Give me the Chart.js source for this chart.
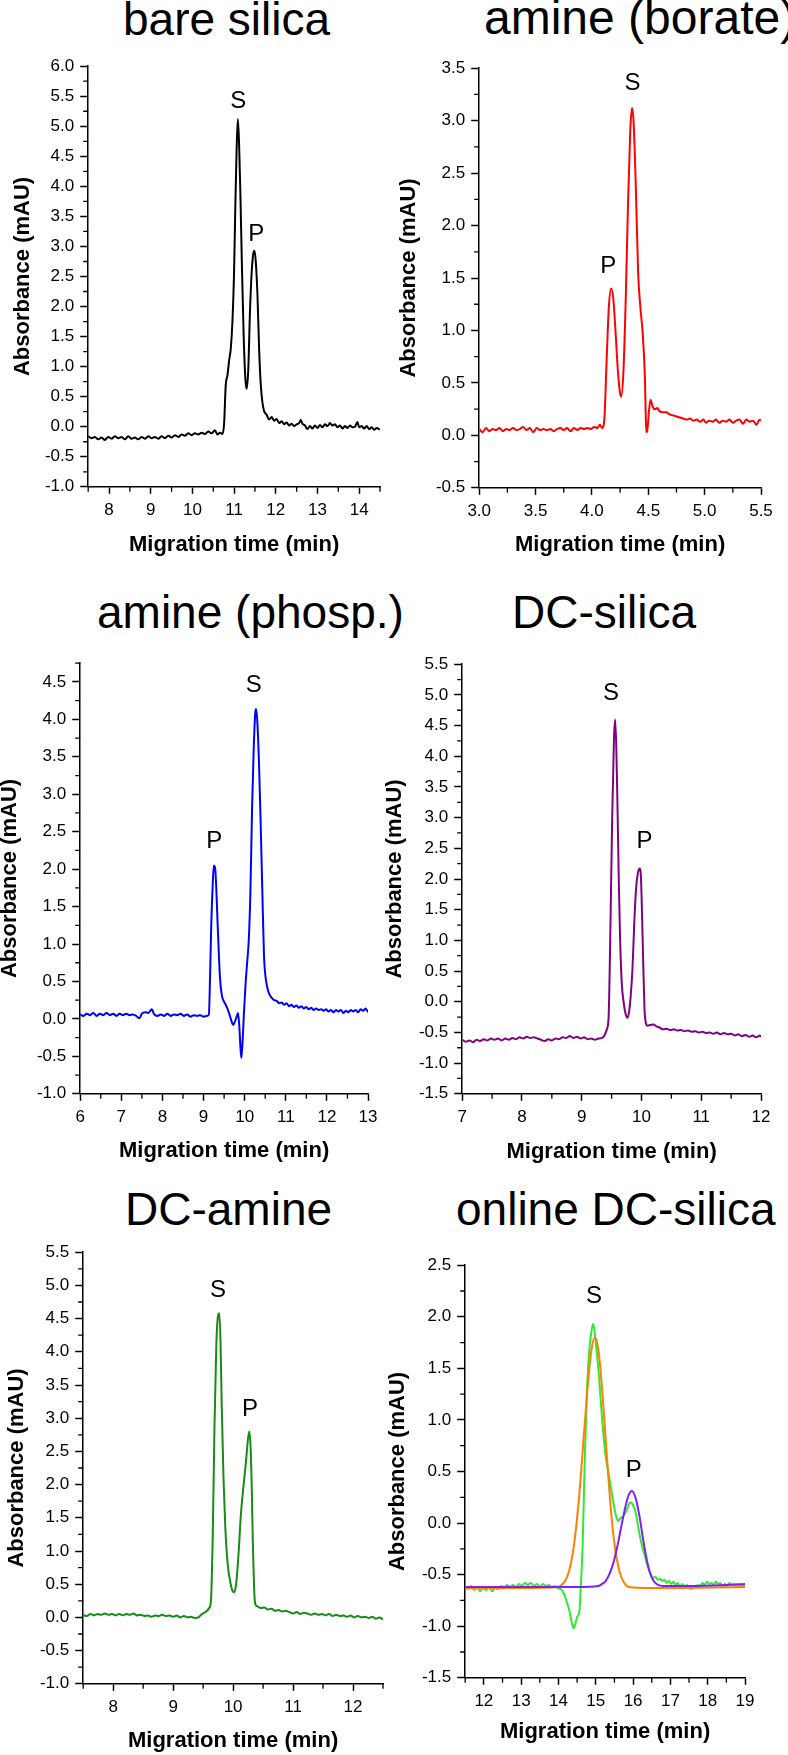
<!DOCTYPE html>
<html>
<head>
<meta charset="utf-8">
<script src="https://cdn.jsdelivr.net/npm/chart.js@4.4.1/dist/chart.umd.min.js"></script>
<style>
  body { margin: 0; background: #fff; }
  #pagina { position: relative; width: 788px; height: 1755px; overflow: hidden; background: #fff; }
  #pagina canvas { position: absolute; }
  .titulo { position: absolute; font: 46px/46px "Liberation Sans", Arial, sans-serif; color: #000; white-space: nowrap; }
</style>
</head>
<body>
<div id="pagina">
  <div class="titulo" style="left:123px; top:-4px">bare silica</div>
  <div class="titulo" style="left:484px; top:-5px; font-size:48px">amine (borate)</div>
  <div class="titulo" style="left:97px; top:589px">amine (phosp.)</div>
  <div class="titulo" style="left:512px; top:589px">DC-silica</div>
  <div class="titulo" style="left:125px; top:1186px">DC-amine</div>
  <div class="titulo" style="left:456px; top:1186px">online DC-silica</div>
</div>

<script>

// bare silica
const bareTime = [
  7.50,7.58,7.66,7.74,7.82,7.90,7.98,8.06,8.14,8.22,
  8.30,8.38,8.46,8.54,8.62,8.70,8.78,8.86,8.94,9.02,
  9.10,9.18,9.26,9.34,9.42,9.50,9.58,9.66,9.74,9.82,
  9.90,9.98,10.06,10.14,10.22,10.30,10.38,10.46,10.54,10.60,
  10.66,10.72,10.76,10.80,10.84,10.88,10.92,10.96,11.00,11.03,
  11.06,11.09,11.12,11.15,11.19,11.23,11.27,11.30,11.34,11.38,
  11.42,11.46,11.49,11.52,11.56,11.60,11.64,11.68,11.72,11.78,
  11.84,11.90,11.96,12.02,12.08,12.14,12.20,12.26,12.32,12.38,
  12.44,12.50,12.56,12.60,12.64,12.70,12.76,12.82,12.88,12.94,
  13.00,13.06,13.12,13.18,13.24,13.30,13.36,13.42,13.48,13.54,
  13.60,13.66,13.72,13.78,13.84,13.90,13.96,14.00,14.06,14.12,
  14.18,14.24,14.30,14.36,14.42,14.50
];
const bareAbs = [
  -0.16,-0.19,-0.17,-0.21,-0.18,-0.22,-0.17,-0.20,-0.16,-0.19,
  -0.17,-0.21,-0.16,-0.20,-0.18,-0.21,-0.17,-0.20,-0.16,-0.19,
  -0.17,-0.20,-0.16,-0.19,-0.15,-0.18,-0.14,-0.17,-0.13,-0.15,
  -0.11,-0.14,-0.11,-0.13,-0.10,-0.12,-0.08,-0.11,-0.06,-0.13,
  -0.10,-0.12,0.05,0.70,0.85,1.10,1.30,1.75,2.60,3.70,
  4.60,5.12,4.70,3.90,2.60,1.50,0.80,0.63,0.95,1.90,
  2.55,2.88,2.93,2.75,2.20,1.30,0.70,0.40,0.26,0.20,
  0.12,0.16,0.10,0.13,0.06,0.09,0.04,0.07,0.02,0.05,
  0.01,0.04,0.06,0.11,0.05,0.02,-0.04,0.01,-0.03,0.02,
  -0.02,0.03,-0.01,0.04,0.01,0.06,0.02,0.04,-0.01,0.02,
  -0.03,0.01,-0.02,0.02,-0.01,0.00,0.08,-0.01,0.01,-0.03,
  0.01,-0.04,-0.01,-0.05,-0.02,-0.05
];
const bareLabels = [['S', 11.10, 5.42], ['P', 11.53, 3.20]];

// amine (borate)
const borateTime = [
  3.00,3.03,3.06,3.09,3.12,3.15,3.18,3.21,3.24,3.27,
  3.30,3.33,3.36,3.39,3.42,3.45,3.48,3.51,3.54,3.57,
  3.60,3.63,3.66,3.69,3.72,3.75,3.78,3.81,3.84,3.87,
  3.90,3.93,3.96,3.99,4.02,4.05,4.07,4.09,4.11,4.13,
  4.15,4.17,4.19,4.21,4.23,4.25,4.26,4.28,4.30,4.32,
  4.34,4.355,4.37,4.39,4.41,4.43,4.45,4.47,4.48,4.49,
  4.505,4.52,4.54,4.56,4.58,4.60,4.63,4.66,4.69,4.72,
  4.75,4.78,4.81,4.84,4.87,4.90,4.93,4.96,4.99,5.01,
  5.04,5.07,5.10,5.13,5.16,5.19,5.22,5.25,5.28,5.31,
  5.34,5.37,5.40,5.43,5.46,5.48,5.50
];
const borateAbs = [
  0.06,0.03,0.07,0.04,0.06,0.05,0.07,0.04,0.06,0.05,
  0.07,0.05,0.06,0.08,0.05,0.07,0.03,0.07,0.05,0.06,
  0.05,0.06,0.04,0.06,0.07,0.05,0.07,0.04,0.07,0.05,
  0.07,0.06,0.07,0.06,0.08,0.07,0.10,0.07,0.15,0.70,
  1.22,1.40,1.30,0.98,0.62,0.40,0.37,0.62,1.30,2.20,
  2.90,3.12,2.98,2.35,1.55,1.22,0.98,0.55,0.10,0.03,
  0.22,0.34,0.27,0.25,0.26,0.23,0.22,0.22,0.20,0.19,
  0.18,0.17,0.16,0.15,0.16,0.14,0.15,0.13,0.15,0.12,
  0.14,0.13,0.15,0.12,0.14,0.13,0.15,0.12,0.14,0.15,
  0.11,0.15,0.13,0.14,0.10,0.14,0.15
];
const borateLabels = [['S', 4.36, 3.36], ['P', 4.145, 1.61]];

// amine (phosp.)
const phospTime = [
  6.00,6.08,6.16,6.24,6.32,6.40,6.48,6.56,6.64,6.72,
  6.80,6.88,6.96,7.04,7.12,7.20,7.28,7.36,7.44,7.50,
  7.58,7.66,7.74,7.80,7.88,7.96,8.04,8.12,8.20,8.28,
  8.36,8.44,8.52,8.60,8.68,8.76,8.84,8.92,9.00,9.08,
  9.13,9.16,9.19,9.22,9.25,9.28,9.31,9.34,9.37,9.40,
  9.44,9.48,9.53,9.58,9.63,9.68,9.72,9.76,9.80,9.84,
  9.87,9.90,9.92,9.95,9.98,10.02,10.06,10.10,10.14,10.18,
  10.22,10.26,10.28,10.31,10.35,10.39,10.43,10.47,10.51,10.55,
  10.60,10.66,10.72,10.78,10.84,10.90,10.96,11.02,11.08,11.14,
  11.20,11.26,11.32,11.38,11.44,11.50,11.56,11.62,11.68,11.74,
  11.80,11.86,11.92,11.98,12.04,12.10,12.16,12.22,12.28,12.34,
  12.40,12.46,12.52,12.58,12.64,12.70,12.76,12.82,12.88,12.94,
  12.97,13.00
];
const phospAbs = [
  0.06,0.04,0.07,0.05,0.08,0.04,0.07,0.05,0.08,0.05,
  0.07,0.04,0.07,0.05,0.07,0.05,0.06,0.04,0.01,0.07,
  0.09,0.08,0.13,0.06,0.04,0.06,0.04,0.07,0.04,0.06,
  0.05,0.07,0.04,0.06,0.03,0.05,0.04,0.05,0.03,0.04,
  0.06,0.60,1.30,1.75,2.05,2.02,1.75,1.30,0.90,0.55,
  0.33,0.25,0.20,0.14,0.06,-0.03,-0.08,-0.04,0.02,0.08,
  -0.10,-0.40,-0.52,-0.30,0.05,0.45,0.75,1.05,1.70,2.80,
  3.60,4.10,4.14,3.95,3.40,2.60,1.70,0.85,0.55,0.42,
  0.33,0.28,0.25,0.24,0.21,0.22,0.19,0.21,0.17,0.19,
  0.16,0.18,0.15,0.17,0.14,0.16,0.13,0.15,0.12,0.14,
  0.12,0.13,0.11,0.13,0.10,0.12,0.09,0.12,0.10,0.12,
  0.08,0.11,0.09,0.12,0.10,0.12,0.09,0.13,0.11,0.14,
  0.12,0.09
];
const phospLabels = [['S', 10.22, 4.45], ['P', 9.26, 2.37]];

// DC-silica
const dcSilicaTime = [
  7.00,7.06,7.12,7.18,7.24,7.30,7.36,7.42,7.48,7.54,
  7.60,7.66,7.72,7.78,7.84,7.90,7.96,8.02,8.08,8.14,
  8.20,8.26,8.32,8.38,8.44,8.50,8.56,8.62,8.68,8.74,
  8.80,8.86,8.92,8.98,9.04,9.10,9.16,9.22,9.28,9.34,
  9.38,9.42,9.45,9.48,9.51,9.54,9.56,9.58,9.60,9.62,
  9.64,9.67,9.70,9.73,9.76,9.79,9.82,9.85,9.88,9.91,
  9.94,9.97,9.99,10.01,10.03,10.05,10.07,10.10,10.15,10.20,
  10.25,10.30,10.36,10.42,10.48,10.54,10.60,10.66,10.72,10.78,
  10.84,10.90,10.96,11.02,11.08,11.14,11.20,11.26,11.32,11.38,
  11.44,11.50,11.56,11.62,11.68,11.74,11.80,11.86,11.92,11.98,
  12.00
];
const dcSilicaAbs = [
  -0.62,-0.65,-0.63,-0.66,-0.62,-0.64,-0.61,-0.63,-0.60,-0.62,
  -0.60,-0.63,-0.60,-0.62,-0.59,-0.61,-0.58,-0.60,-0.57,-0.59,
  -0.58,-0.60,-0.62,-0.64,-0.61,-0.63,-0.60,-0.61,-0.58,-0.59,
  -0.56,-0.59,-0.57,-0.60,-0.58,-0.61,-0.60,-0.62,-0.60,-0.59,
  -0.55,-0.45,-0.25,1.20,3.00,4.30,4.60,4.10,3.10,2.00,
  1.10,0.30,0.00,-0.18,-0.26,-0.18,0.10,0.55,1.30,1.85,
  2.10,2.17,2.05,1.40,0.60,-0.10,-0.33,-0.39,-0.38,-0.37,
  -0.40,-0.42,-0.45,-0.44,-0.46,-0.45,-0.47,-0.46,-0.48,-0.47,
  -0.49,-0.48,-0.50,-0.49,-0.51,-0.50,-0.52,-0.50,-0.53,-0.51,
  -0.53,-0.52,-0.55,-0.53,-0.56,-0.54,-0.57,-0.55,-0.58,-0.55,
  -0.57
];
const dcSilicaLabels = [['S', 9.49, 5.02], ['P', 10.05, 2.61]];

// DC-amine
const dcAmineTime = [
  7.50,7.56,7.62,7.68,7.74,7.80,7.86,7.92,7.98,8.04,
  8.10,8.16,8.22,8.28,8.34,8.40,8.46,8.52,8.58,8.64,
  8.70,8.76,8.82,8.88,8.94,9.00,9.06,9.12,9.18,9.24,
  9.30,9.36,9.42,9.48,9.54,9.60,9.63,9.66,9.69,9.72,
  9.75,9.77,9.79,9.81,9.84,9.87,9.91,9.95,9.99,10.02,
  10.05,10.09,10.13,10.17,10.21,10.25,10.27,10.29,10.31,10.33,
  10.35,10.37,10.40,10.46,10.52,10.58,10.64,10.70,10.76,10.82,
  10.88,10.94,11.00,11.06,11.12,11.18,11.24,11.30,11.36,11.42,
  11.48,11.54,11.60,11.66,11.72,11.78,11.84,11.90,11.96,12.02,
  12.08,12.14,12.20,12.26,12.32,12.38,12.44,12.50
];
const dcAmineAbs = [
  0.04,0.02,0.05,0.03,0.05,0.04,0.06,0.04,0.05,0.03,
  0.05,0.03,0.05,0.04,0.06,0.03,0.04,0.02,0.03,0.01,
  0.03,0.02,0.04,0.02,0.03,0.01,0.03,0.00,0.02,0.00,
  0.01,-0.01,0.00,0.05,0.08,0.14,0.25,1.20,2.90,4.10,
  4.55,4.58,4.15,3.20,2.10,1.35,0.80,0.55,0.40,0.38,
  0.50,0.95,1.55,1.95,2.30,2.70,2.80,2.60,2.00,1.10,
  0.45,0.20,0.17,0.14,0.15,0.12,0.13,0.10,0.11,0.09,
  0.10,0.08,0.06,0.08,0.05,0.07,0.06,0.04,0.06,0.04,
  0.05,0.03,0.05,0.02,0.04,0.02,0.03,0.01,0.03,0.00,
  0.02,0.00,0.01,-0.01,0.01,-0.02,0.00,-0.03
];
const dcAmineLabels = [['S', 9.75, 4.93], ['P', 10.28, 3.14]];

// online DC-silica: measured trace and the two fitted peaks
const onlineTime = [
  11.50,11.58,11.66,11.74,11.82,11.90,11.98,12.06,12.14,12.22,
  12.30,12.38,12.46,12.54,12.62,12.70,12.78,12.86,12.94,13.02,
  13.10,13.18,13.26,13.34,13.42,13.50,13.58,13.66,13.74,13.82,
  13.90,13.98,14.06,14.14,14.22,14.30,14.36,14.40,14.45,14.50,
  14.56,14.60,14.65,14.70,14.76,14.82,14.88,14.93,14.97,15.02,
  15.08,15.14,15.20,15.26,15.32,15.38,15.44,15.50,15.56,15.60,
  15.66,15.72,15.78,15.84,15.90,15.95,16.00,16.06,16.12,16.18,
  16.24,16.30,16.36,16.42,16.48,16.54,16.60,16.66,16.72,16.78,
  16.84,16.90,16.96,17.02,17.08,17.14,17.20,17.26,17.32,17.38,
  17.44,17.50,17.56,17.62,17.68,17.74,17.80,17.86,17.92,17.98,
  18.04,18.10,18.16,18.22,18.28,18.34,18.40,18.46,18.52,18.58,
  18.64,18.70,18.76,18.82,18.88,18.94,19.00
];
const onlineAbs = [
  -0.62,-0.64,-0.61,-0.65,-0.62,-0.66,-0.63,-0.65,-0.62,-0.66,
  -0.63,-0.64,-0.61,-0.63,-0.60,-0.62,-0.60,-0.62,-0.59,-0.61,
  -0.58,-0.60,-0.58,-0.61,-0.59,-0.62,-0.59,-0.61,-0.60,-0.62,
  -0.61,-0.63,-0.64,-0.68,-0.76,-0.86,-0.97,-1.02,-0.98,-0.91,
  -0.86,-0.60,-0.20,0.55,1.25,1.65,1.85,1.93,1.85,1.68,
  1.45,1.15,0.88,0.66,0.52,0.40,0.27,0.14,0.05,0.02,
  0.05,0.06,0.09,0.14,0.19,0.20,0.17,0.12,0.00,-0.12,
  -0.22,-0.30,-0.38,-0.45,-0.50,-0.53,-0.52,-0.55,-0.54,-0.56,
  -0.55,-0.58,-0.56,-0.59,-0.57,-0.60,-0.58,-0.62,-0.59,-0.63,
  -0.60,-0.62,-0.64,-0.61,-0.62,-0.60,-0.61,-0.58,-0.60,-0.57,
  -0.59,-0.58,-0.60,-0.57,-0.59,-0.58,-0.61,-0.59,-0.61,-0.58,
  -0.60,-0.59,-0.62,-0.60,-0.62,-0.60,-0.62
];
const fitSTime = [11.50,13.00,13.98,14.08,14.18,14.28,14.38,14.48,14.58,14.68,14.78,14.88,
  14.98,15.08,15.18,15.28,15.38,15.48,15.58,15.68,15.78,15.88,16.50,19.00];
const fitSAbs = [-0.63,-0.63,-0.62,-0.60,-0.56,-0.47,-0.30,-0.02,0.37,0.85,1.31,1.67,
  1.80,1.65,1.25,0.74,0.24,-0.14,-0.38,-0.52,-0.59,-0.62,-0.63,-0.62];
const fitPTime = [11.50,13.00,14.50,15.07,15.17,15.27,15.37,15.47,15.57,15.67,15.77,15.87,
  15.97,16.07,16.17,16.27,16.37,16.47,16.57,16.67,16.80,17.50,18.50,19.00];
const fitPAbs = [-0.62,-0.62,-0.62,-0.61,-0.59,-0.56,-0.49,-0.39,-0.24,-0.06,0.12,0.26,
  0.31,0.24,0.07,-0.16,-0.36,-0.50,-0.57,-0.60,-0.61,-0.61,-0.60,-0.59];
const onlineLabels = [['S', 14.95, 2.20], ['P', 16.02, 0.51]];


Chart.defaults.font.family = '"Liberation Sans", Arial, sans-serif';
Chart.defaults.color = '#000';

function pares(xs, ys){
    return xs.map((x, i) => ({ x: x, y: ys[i] }));
}

function ehMaior(v, passo){
    const q = v / passo;
    return Math.abs(q - Math.round(q)) < 1e-6;
}

function rotulo(v, casas){
    let r = Math.round(v * 100) / 100;
    if(Math.abs(r) < 1e-9){ r = 0; }
    return r.toFixed(casas);
}

// short unlabeled ticks between the labeled ones
function marcasMenores(xMaior, yMaior){
    return {
        id: 'marcasMenores',
        afterDraw(chart){
            const c = chart.ctx;
            const a = chart.chartArea;
            c.save();
            c.strokeStyle = '#000';
            c.lineWidth = 1.3;
            c.beginPath();
            chart.scales.y.ticks.forEach(t => {
                if(ehMaior(t.value, yMaior)) return;
                const p = chart.scales.y.getPixelForValue(t.value);
                c.moveTo(a.left - 5, p);
                c.lineTo(a.left, p);
            });
            chart.scales.x.ticks.forEach(t => {
                if(ehMaior(t.value, xMaior)) return;
                const p = chart.scales.x.getPixelForValue(t.value);
                c.moveTo(p, a.bottom);
                c.lineTo(p, a.bottom + 5);
            });
            c.stroke();
            c.restore();
        }
    };
}

function rotulosPicos(lista){
    return {
        id: 'rotulosPicos',
        afterDatasetsDraw(chart){
            const c = chart.ctx;
            c.save();
            c.fillStyle = '#000';
            c.font = '24px "Liberation Sans", Arial, sans-serif';
            c.textAlign = 'center';
            c.textBaseline = 'middle';
            lista.forEach(r => {
                c.fillText(r[0], chart.scales.x.getPixelForValue(r[1]), chart.scales.y.getPixelForValue(r[2]));
            });
            c.restore();
        }
    };
}

function eixo(faixa, casas, tituloTexto, tamanho, ehX){
    return {
        type: 'linear',
        min: faixa[0],
        max: faixa[1],
        afterFit: s => { if(ehX){ s.height = tamanho; } else { s.width = tamanho; } },
        border: { display: true, color: '#000', width: 1.5 },
        grid: {
            drawOnChartArea: false,
            tickLength: ehX ? 7 : 8,
            tickWidth: 1.5,
            tickColor: ctx => (ctx.tick && ehMaior(ctx.tick.value, faixa[2])) ? '#000' : 'rgba(0,0,0,0)'
        },
        ticks: {
            stepSize: faixa[3],
            autoSkip: false,
            maxRotation: 0,
            minRotation: 0,
            padding: ehX ? 6 : 6,
            color: '#000',
            font: { size: 17 },
            callback: v => ehMaior(v, faixa[2]) ? rotulo(v, casas) : ''
        },
        title: {
            display: true,
            text: tituloTexto,
            color: '#000',
            padding: 0,
            font: { size: 22, weight: 'bold' }
        }
    };
}

function painel(p){
    const topo = 12, direita = 22;
    const larguraY = p.gapY + 13.2;
    const alturaX = p.gapX + 13.2;
    const canvas = document.createElement('canvas');
    canvas.width = Math.round((p.area[1] - p.area[0]) + larguraY + direita);
    canvas.height = Math.round((p.area[3] - p.area[2]) + topo + alturaX);
    canvas.style.left = (p.area[0] - larguraY) + 'px';
    canvas.style.top = (p.area[2] - topo) + 'px';
    document.getElementById('pagina').appendChild(canvas);

    new Chart(canvas, {
        type: 'line',
        data: {
            datasets: p.series.map(s => ({
                data: pares(s[0], s[1]),
                borderColor: s[2],
                borderWidth: 2,
                pointRadius: 0,
                fill: false,
                cubicInterpolationMode: 'monotone'
            }))
        },
        options: {
            responsive: false,
            animation: false,
            devicePixelRatio: 1,
            events: [],
            layout: { padding: { left: 0, top: topo, right: direita, bottom: 0 } },
            plugins: { legend: { display: false }, tooltip: { enabled: false } },
            scales: {
                x: eixo(p.x, p.casasX, 'Migration time (min)', alturaX, true),
                y: eixo(p.y, 1, 'Absorbance (mAU)', larguraY, false)
            }
        },
        plugins: [marcasMenores(p.x[2], p.y[2]), rotulosPicos(p.picos)]
    });
}

// area: [left, right, top, bottom] of the plot box in page pixels
// x / y: [min, max, labeled step, tick step]
painel({ area: [88, 380, 62, 487], gapY: 65, gapX: 58,
    x: [7.5, 14.5, 1, 0.5], casasX: 0, y: [-1, 6, 0.5, 0.25],
    series: [[bareTime, bareAbs, '#000000']], picos: bareLabels });

painel({ area: [479, 761, 64, 488], gapY: 70, gapX: 57,
    x: [3, 5.5, 0.5, 0.25], casasX: 1, y: [-0.5, 3.5, 0.5, 0.25],
    series: [[borateTime, borateAbs, '#ff0000']], picos: borateLabels });

painel({ area: [80, 368, 659, 1094], gapY: 70, gapX: 57,
    x: [6, 13, 1, 0.5], casasX: 0, y: [-1, 4.75, 0.5, 0.25],
    series: [[phospTime, phospAbs, '#0000ff']], picos: phospLabels });

painel({ area: [462, 761, 660, 1094], gapY: 67, gapX: 58,
    x: [7, 12, 1, 0.5], casasX: 0, y: [-1.5, 5.5, 0.5, 0.25],
    series: [[dcSilicaTime, dcSilicaAbs, '#800080']], picos: dcSilicaLabels });

painel({ area: [83, 383, 1248, 1684], gapY: 66, gapX: 57,
    x: [7.5, 12.5, 1, 0.5], casasX: 0, y: [-1, 5.5, 0.5, 0.25],
    series: [[dcAmineTime, dcAmineAbs, '#178a17']], picos: dcAmineLabels });

painel({ area: [465, 745, 1261, 1678], gapY: 67, gapX: 54,
    x: [11.5, 19, 1, 0.5], casasX: 0, y: [-1.5, 2.5, 0.5, 0.25],
    series: [
        [fitPTime, fitPAbs, '#8020f0'],
        [fitSTime, fitSAbs, '#ff8000'],
        [onlineTime, onlineAbs, '#33e833']
    ], picos: onlineLabels });

</script>
</body>
</html>
